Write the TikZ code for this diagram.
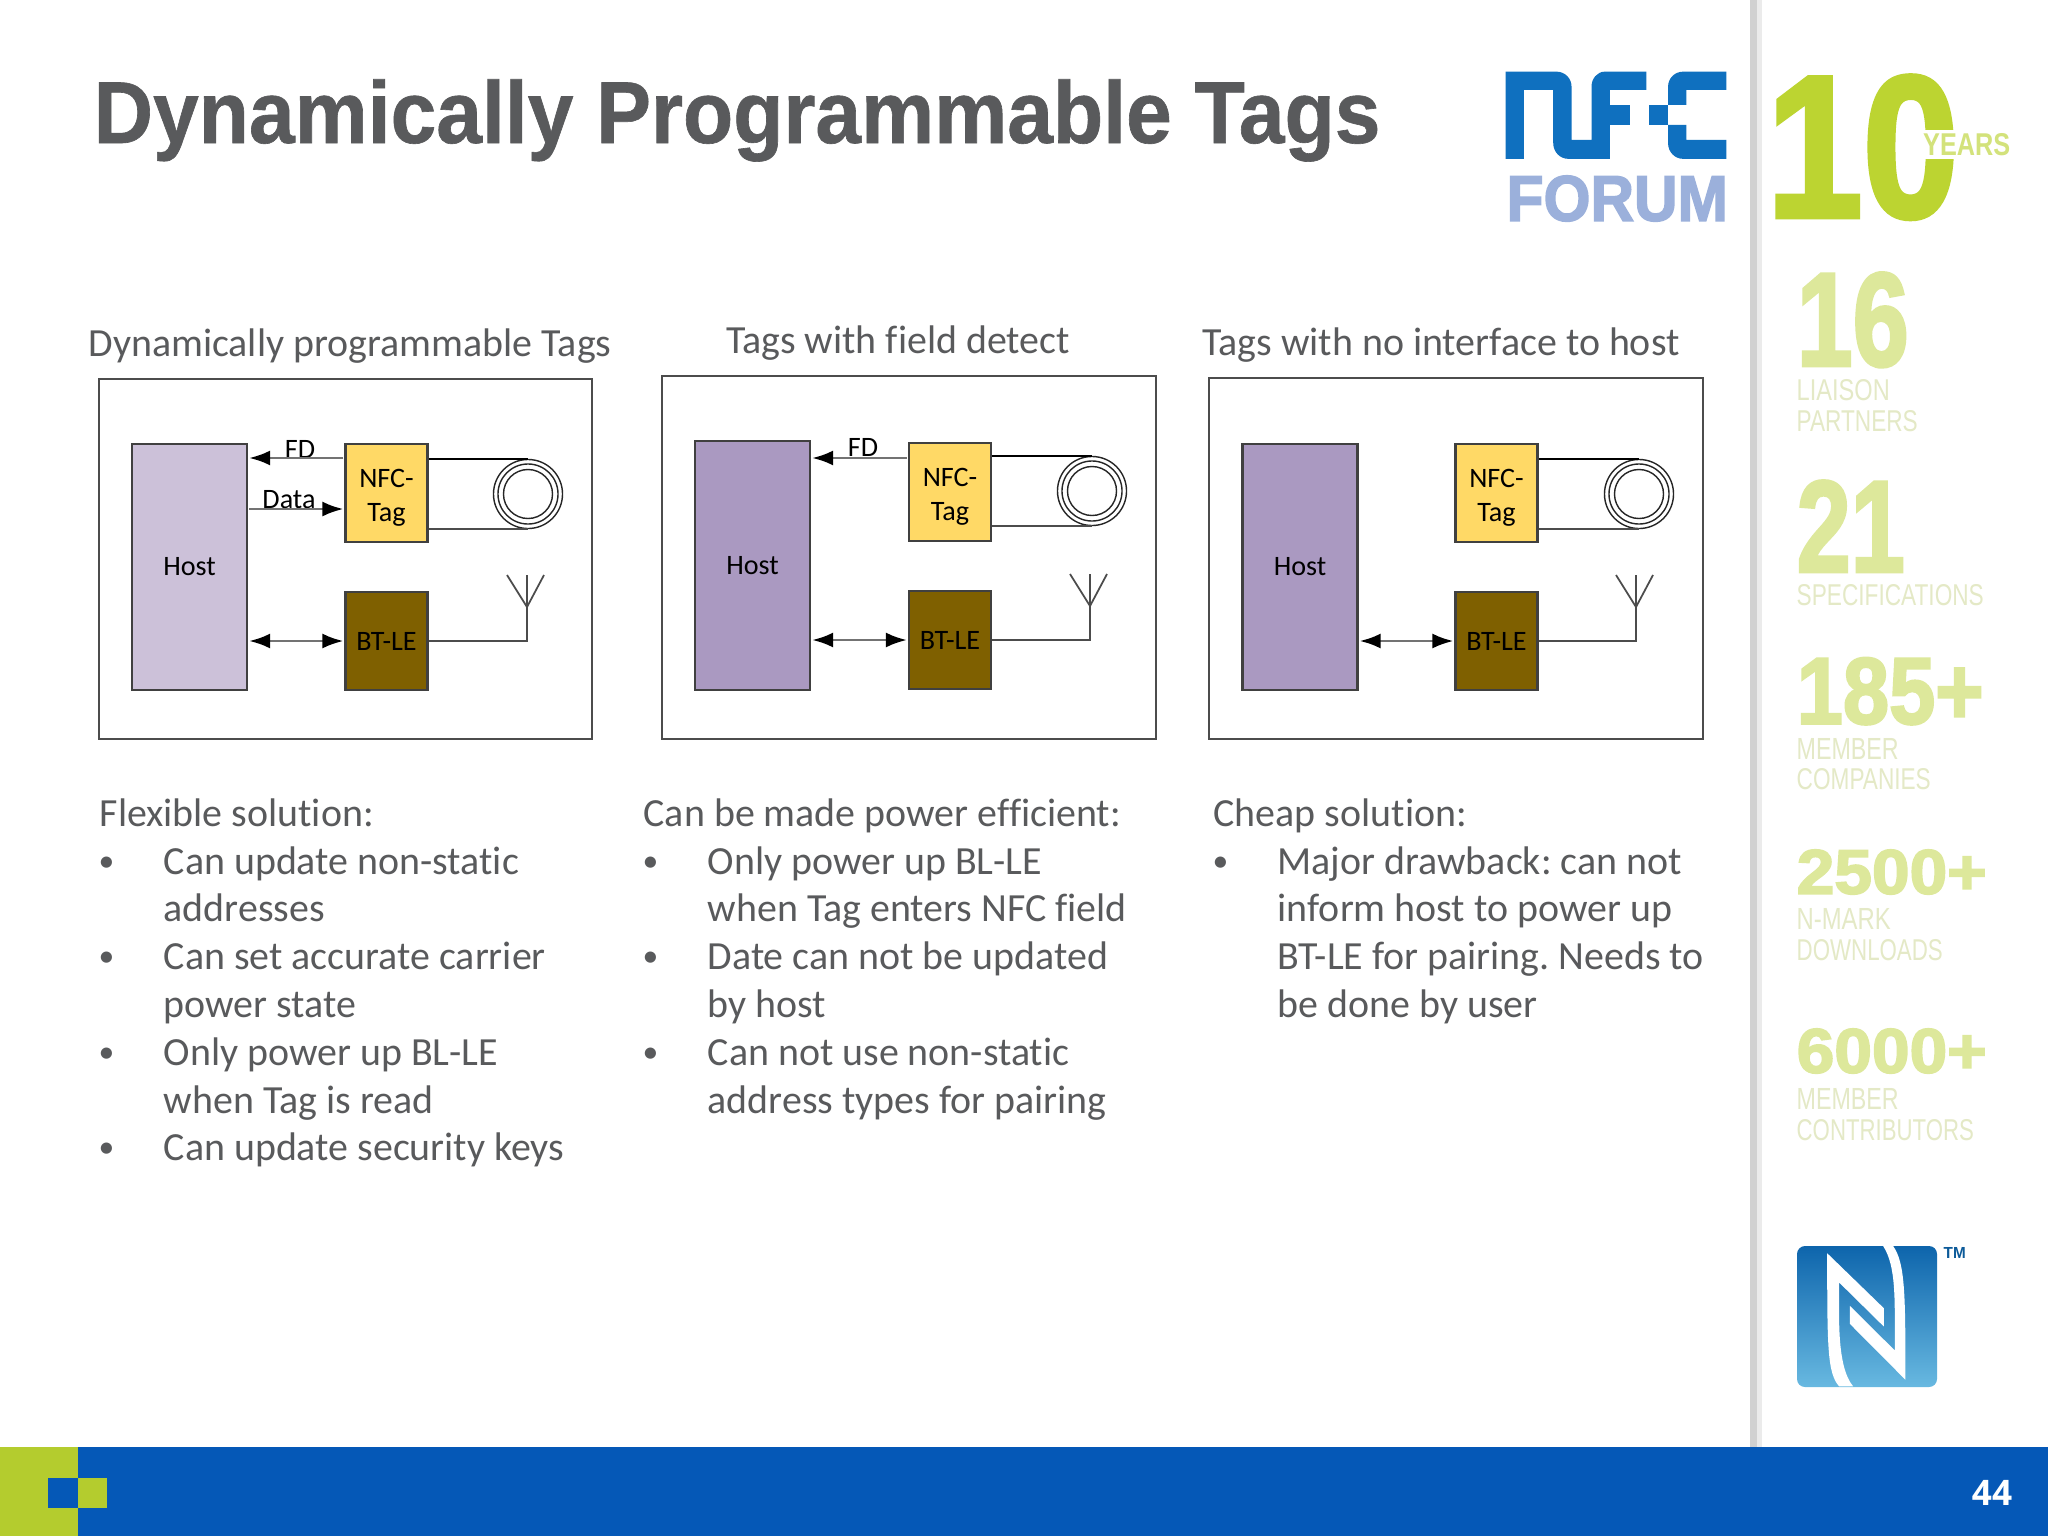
\documentclass[tikz,border=0pt]{standalone}
\usepackage{fontspec}
\usepackage{array}
\setmainfont[Ligatures={NoCommon}]{Carlito}
\newfontfamily\logofont[BoldFeatures={FakeBold=2.5}]{Liberation Sans}
\newfontfamily\sidefont{Liberation Sans}
\newfontfamily\titlefont[FakeStretch=0.935, FakeBold=0.7]{Liberation Sans}
\newfontfamily\numfont{Open Sans}
\usetikzlibrary{positioning, arrows.meta}
\definecolor{slidegray}{HTML}{595A5C}
\definecolor{barblue}{HTML}{0558B7}
\definecolor{bargreen}{HTML}{B4CC2E}
\definecolor{palegreen}{HTML}{DDE89B}
\definecolor{labelgreen}{HTML}{E4E9C6}
\definecolor{tenyears}{HTML}{BCD431}
\definecolor{nfcblue}{HTML}{0F70BF}
\definecolor{forumblue}{HTML}{9BB0DB}
\definecolor{tagyellow}{HTML}{FFD966}
\definecolor{btbrown}{HTML}{7F6000}
\definecolor{hostlight}{HTML}{CCC1D9}
\definecolor{hostdark}{HTML}{AA99C1}
\newcommand{\fittext}[3]{\resizebox{#1cm}{#2cm}{#3}}
\newcommand{\bodyfont}{\frenchspacing\fontsize{11.35}{13.6}\selectfont}
\newcommand{\dotmark}{\hspace{-0.01cm}\raisebox{0.03cm}{\fontsize{9}{9}\selectfont\textbullet}}
\tikzset{%
	>={Latex[length=0.21cm, width=0.15cm, color=black]},
	every edge/.append style={line width = 0.8pt, draw = black!55, shorten > = 0.01cm, shorten < = 0.01cm},
	panel/.style = {name = #1, rectangle, draw = black!70, line width = 0.6pt, fill = white, minimum width = 4.93cm, minimum height = 3.6cm},
	hostbox/.style = {name = #1, rectangle, draw = black!75, line width = 0.6pt, minimum width = 1.15cm, minimum height = 2.46cm, font = \fontsize{8}{9.7}\selectfont},
	tagbox/.style = {name = #1, rectangle, draw = black!75, line width = 0.6pt, fill = tagyellow, align = center, minimum width = 0.82cm, minimum height = 0.98cm, inner sep = 0pt, font = \fontsize{8}{9.7}\selectfont},
	btbox/.style = {name = #1, rectangle, draw = black!75, line width = 0.6pt, fill = btbrown, minimum width = 0.82cm, minimum height = 0.98cm, inner sep = 0pt, font = \fontsize{8}{9.7}\selectfont},
	coil/.style = {name = #1, circle, draw = black!85, line width = 0.4pt, minimum size = 0.69cm, inner sep = 0pt},
	sigtext/.style = {name = #1, inner sep = 0pt, font = \fontsize{8}{9.7}\selectfont},
	coltitle/.style = {name = #1, inner sep = 0pt, text = slidegray, font = \bodyfont},
	coltext/.style = {name = #1, anchor = north west, inner sep = 0pt, text = slidegray, font = \bodyfont},
	stat/.style = {name = #1, anchor = north west, inner sep = 0pt, text = palegreen, font = \logofont\bfseries},
	statlabel/.style = {name = #1, anchor = north west, inner sep = 0pt, text = labelgreen, font = \sidefont}
}

\begin{document}
\begin{tikzpicture}[x=0.01cm, y=-0.01cm]
	\useasboundingbox (0,0) rectangle (2048,1536);
	\fill [white] (0,0) rectangle (2048,1536);
	% sidebar rule and footer
	\fill [black!18] (1750,0) rectangle (1757,1447);
	\fill [black!8] (1757,0) rectangle (1762,1447);
	\fill [barblue] (0,1447) rectangle (2048,1536);
	\fill [bargreen] (0,1447) rectangle (78,1536);
	\fill [barblue] (48,1478) rectangle (78,1508);
	\fill [bargreen] (78,1478) rectangle (107,1508);
	\node [name = pageno, text = white, font = \numfont\bfseries\fontsize{10}{12}\selectfont, inner sep = 0pt] at (1992,1493) {44};

	\node [name = slidetitle, anchor = base west, inner sep = 0pt, text = slidegray, font = \titlefont\bfseries\fontsize{25}{30}\selectfont] at (93,143) {Dynamically Programmable Tags};

	% first panel
	\node [coltitle = T1] at (350,346) {Dynamically programmable Tags};
	\node [panel = P1] at (345.5,559) {};
	\node [hostbox = H1, fill = hostlight] at (189.5,567) {Host};
	\node [tagbox = N1] at (386.5,493) {\rule{0pt}{8pt}NFC-\\Tag};
	\node [btbox = B1] at (386.5,641) {BT-LE};
	\node [coil = C1] at (528,494) {};
	\draw [line width = 0.4pt, black!85] (C1) circle (0.30cm) circle (0.245cm);
	\node [sigtext = FD1] at (300,449) {FD};
	\node [sigtext = Data1] at (289,500) {Data};
	\path [->] ([yshift=0.35cm]N1.west) edge ([yshift=0.35cm]N1.west -| H1.east);
	\path [->] ([yshift=-0.16cm]N1.west -| H1.east) edge ([yshift=-0.16cm]N1.west);
	\path [<->] (B1.west) edge (B1.west -| H1.east);
	\draw [line width = 0.6pt] (C1.north -| N1.east) -- (C1.north);
	\draw [line width = 0.6pt, black!70] (C1.south -| N1.east) -- (C1.south);
	\coordinate (A1) at (527,575);
	\coordinate (J1) at (527,607);
	\draw [line width = 0.6pt, black!70] (B1.east) -- (A1 |- B1.east) -- (A1);
	\draw [line width = 0.5pt, black!70] (507,575) -- (J1) -- (544,575);

	% second panel
	\node [coltitle = T2] at (898,343) {Tags with field detect};
	\node [panel = P2, minimum height = 3.63cm] at (909,557.5) {};
	\node [hostbox = H2, fill = hostdark, minimum height = 2.49cm] at (752.5,565.5) {Host};
	\node [tagbox = N2] at (950,492) {\rule{0pt}{8pt}NFC-\\Tag};
	\node [btbox = B2] at (950,640) {BT-LE};
	\node [coil = C2] at (1092,491) {};
	\draw [line width = 0.4pt, black!85] (C2) circle (0.30cm) circle (0.245cm);
	\node [sigtext = FD2] at (863,447) {FD};
	\path [->] ([yshift=0.34cm]N2.west) edge ([yshift=0.34cm]N2.west -| H2.east);
	\path [<->] (B2.west) edge (B2.west -| H2.east);
	\draw [line width = 0.6pt] (C2.north -| N2.east) -- (C2.north);
	\draw [line width = 0.6pt, black!70] (C2.south -| N2.east) -- (C2.south);
	\coordinate (A2) at (1090,574);
	\coordinate (J2) at (1090,606);
	\draw [line width = 0.6pt, black!70] (B2.east) -- (A2 |- B2.east) -- (A2);
	\draw [line width = 0.5pt, black!70] (1070,574) -- (J2) -- (1107,574);

	% third panel
	\node [coltitle = T3] at (1441,345) {Tags with no interface to host};
	\node [panel = P3] at (1456,558.5) {};
	\node [hostbox = H3, fill = hostdark] at (1300,567) {Host};
	\node [tagbox = N3] at (1496.5,493) {\rule{0pt}{8pt}NFC-\\Tag};
	\node [btbox = B3] at (1496.5,641) {BT-LE};
	\node [coil = C3] at (1639,494) {};
	\draw [line width = 0.4pt, black!85] (C3) circle (0.30cm) circle (0.245cm);
	\path [<->] (B3.west) edge (B3.west -| H3.east);
	\draw [line width = 0.6pt] (C3.north -| N3.east) -- (C3.north);
	\draw [line width = 0.6pt, black!70] (C3.south -| N3.east) -- (C3.south);
	\coordinate (A3) at (1636,575);
	\coordinate (J3) at (1636,607);
	\draw [line width = 0.6pt, black!70] (B3.east) -- (A3 |- B3.east) -- (A3);
	\draw [line width = 0.5pt, black!70] (1616,575) -- (J3) -- (1653,575);

	% column texts
	\node [coltext = L1] at (99,792) {\begin{tabular}{@{}p{0.64cm}@{}l@{}}
		\multicolumn{2}{@{}l@{}}{Flexible solution:}\\
		\dotmark & Can update non-static\\
		& addresses\\
		\dotmark & Can set accurate carrier\\
		& power state\\
		\dotmark & Only power up BL-LE\\
		& when Tag is read\\
		\dotmark & Can update security keys
	\end{tabular}};
	\node [coltext = L2] at (643,792) {\begin{tabular}{@{}p{0.64cm}@{}l@{}}
		\multicolumn{2}{@{}l@{}}{Can be made power efficient:}\\
		\dotmark & Only power up BL-LE\\
		& when Tag enters NFC field\\
		\dotmark & Date can not be updated\\
		& by host\\
		\dotmark & Can not use non-static\\
		& address types for pairing
	\end{tabular}};
	\node [coltext = L3] at (1213,792) {\begin{tabular}{@{}p{0.64cm}@{}l@{}}
		\multicolumn{2}{@{}l@{}}{Cheap solution:}\\
		\dotmark & Major drawback: can not\\
		& inform host to power up\\
		& BT-LE for pairing. Needs to\\
		& be done by user
	\end{tabular}};

	% forum logo
	\begin{scope}[shift={(1490,60)}, x=0.003333cm, y=-0.003333cm]
		\fill [nfcblue] (47,35) -- (200,35) to [out=0, in=90] (245,80) -- (245,240) -- (305,240) -- (305,80) to [out=90, in=180] (345,35) -- (470,35) -- (470,90) -- (360,90) -- (360,297) -- (235,297) to [out=180, in=-90] (190,250) -- (190,90) -- (102,90) -- (102,297) -- (47,297) -- cycle;
		\fill [nfcblue] (360,135) rectangle (420,195);
		\fill [nfcblue] (478,135) rectangle (535,195);
		\fill [nfcblue] (710,35) -- (580,35) to [out=180, in=90] (535,80) -- (535,135) -- (590,135) -- (590,90) -- (710,90) -- cycle;
		\fill [nfcblue] (710,297) -- (580,297) to [out=180, in=-90] (535,250) -- (535,195) -- (590,195) -- (590,240) -- (710,240) -- cycle;
	\end{scope}
	\node [name = forum, anchor = north west, inner sep = 0pt, text = forumblue, font = \logofont\bfseries] at (1506,175) {\fittext{2.21}{0.45}{FORUM}};

	% sidebar figures
	\node [stat = ten, text = tenyears] at (1766,75) {\fittext{1.92}{1.41}{10}};
	\node [name = years, anchor = north west, inner sep = 1pt, fill = white, text = palegreen!70!tenyears, font = \sidefont\bfseries] at (1919,129) {\fittext{0.87}{0.22}{YEARS}};
	\node [stat = S16] at (1796,272) {\fittext{1.12}{0.93}{16}};
	\node [statlabel = S16a] at (1796,379) {\fittext{0.93}{0.21}{LIAISON}};
	\node [statlabel = S16b] at (1796,410) {\fittext{1.21}{0.21}{PARTNERS}};
	\node [stat = S21] at (1796,480) {\fittext{1.08}{0.91}{21}};
	\node [statlabel = S21a] at (1796,584) {\fittext{1.87}{0.21}{SPECIFICATIONS}};
	\node [stat = S185] at (1796,657) {\fittext{1.87}{0.66}{185+}};
	\node [statlabel = S185a] at (1796,738) {\fittext{1.02}{0.21}{MEMBER}};
	\node [statlabel = S185b] at (1796,768) {\fittext{1.34}{0.21}{COMPANIES}};
	\node [stat = S2500] at (1796,849) {\fittext{1.90}{0.44}{2500+}};
	\node [statlabel = S2500a] at (1796,908) {\fittext{0.94}{0.21}{N-MARK}};
	\node [statlabel = S2500b] at (1796,939) {\fittext{1.46}{0.21}{DOWNLOADS}};
	\node [stat = S6000] at (1796,1028) {\fittext{1.90}{0.44}{6000+}};
	\node [statlabel = S6000a] at (1796,1088) {\fittext{1.02}{0.21}{MEMBER}};
	\node [statlabel = S6000b] at (1796,1119) {\fittext{1.77}{0.21}{CONTRIBUTORS}};

	% n-mark
	\shade [top color = nfcblue!90!black, middle color = cyan!55!barblue, bottom color = cyan!30!barblue!60, rounded corners = 0.08cm] (1797,1246) rectangle (1937,1387);
	\begin{scope}[shift={(1740,1200)}, x=0.003333cm, y=-0.003333cm]
		\fill [white] (262,160) -- (432,325) -- (432,380) -- (298,248) .. controls (298,350) and (290,500) .. (340,560) -- (298,560) .. controls (262,520) and (262,440) .. (262,160) -- cycle;
		\fill [white] (460,138) .. controls (497,190) and (497,290) .. (497,540) -- (330,372) -- (330,318) -- (465,452) .. controls (465,300) and (470,200) .. (430,138) -- cycle;
	\end{scope}
	\node [name = tm, anchor = north west, inner sep = 0pt, text = nfcblue!80!black, font = \sidefont\bfseries] at (1943,1247) {\fittext{0.22}{0.11}{TM}};
\end{tikzpicture}
\end{document}
